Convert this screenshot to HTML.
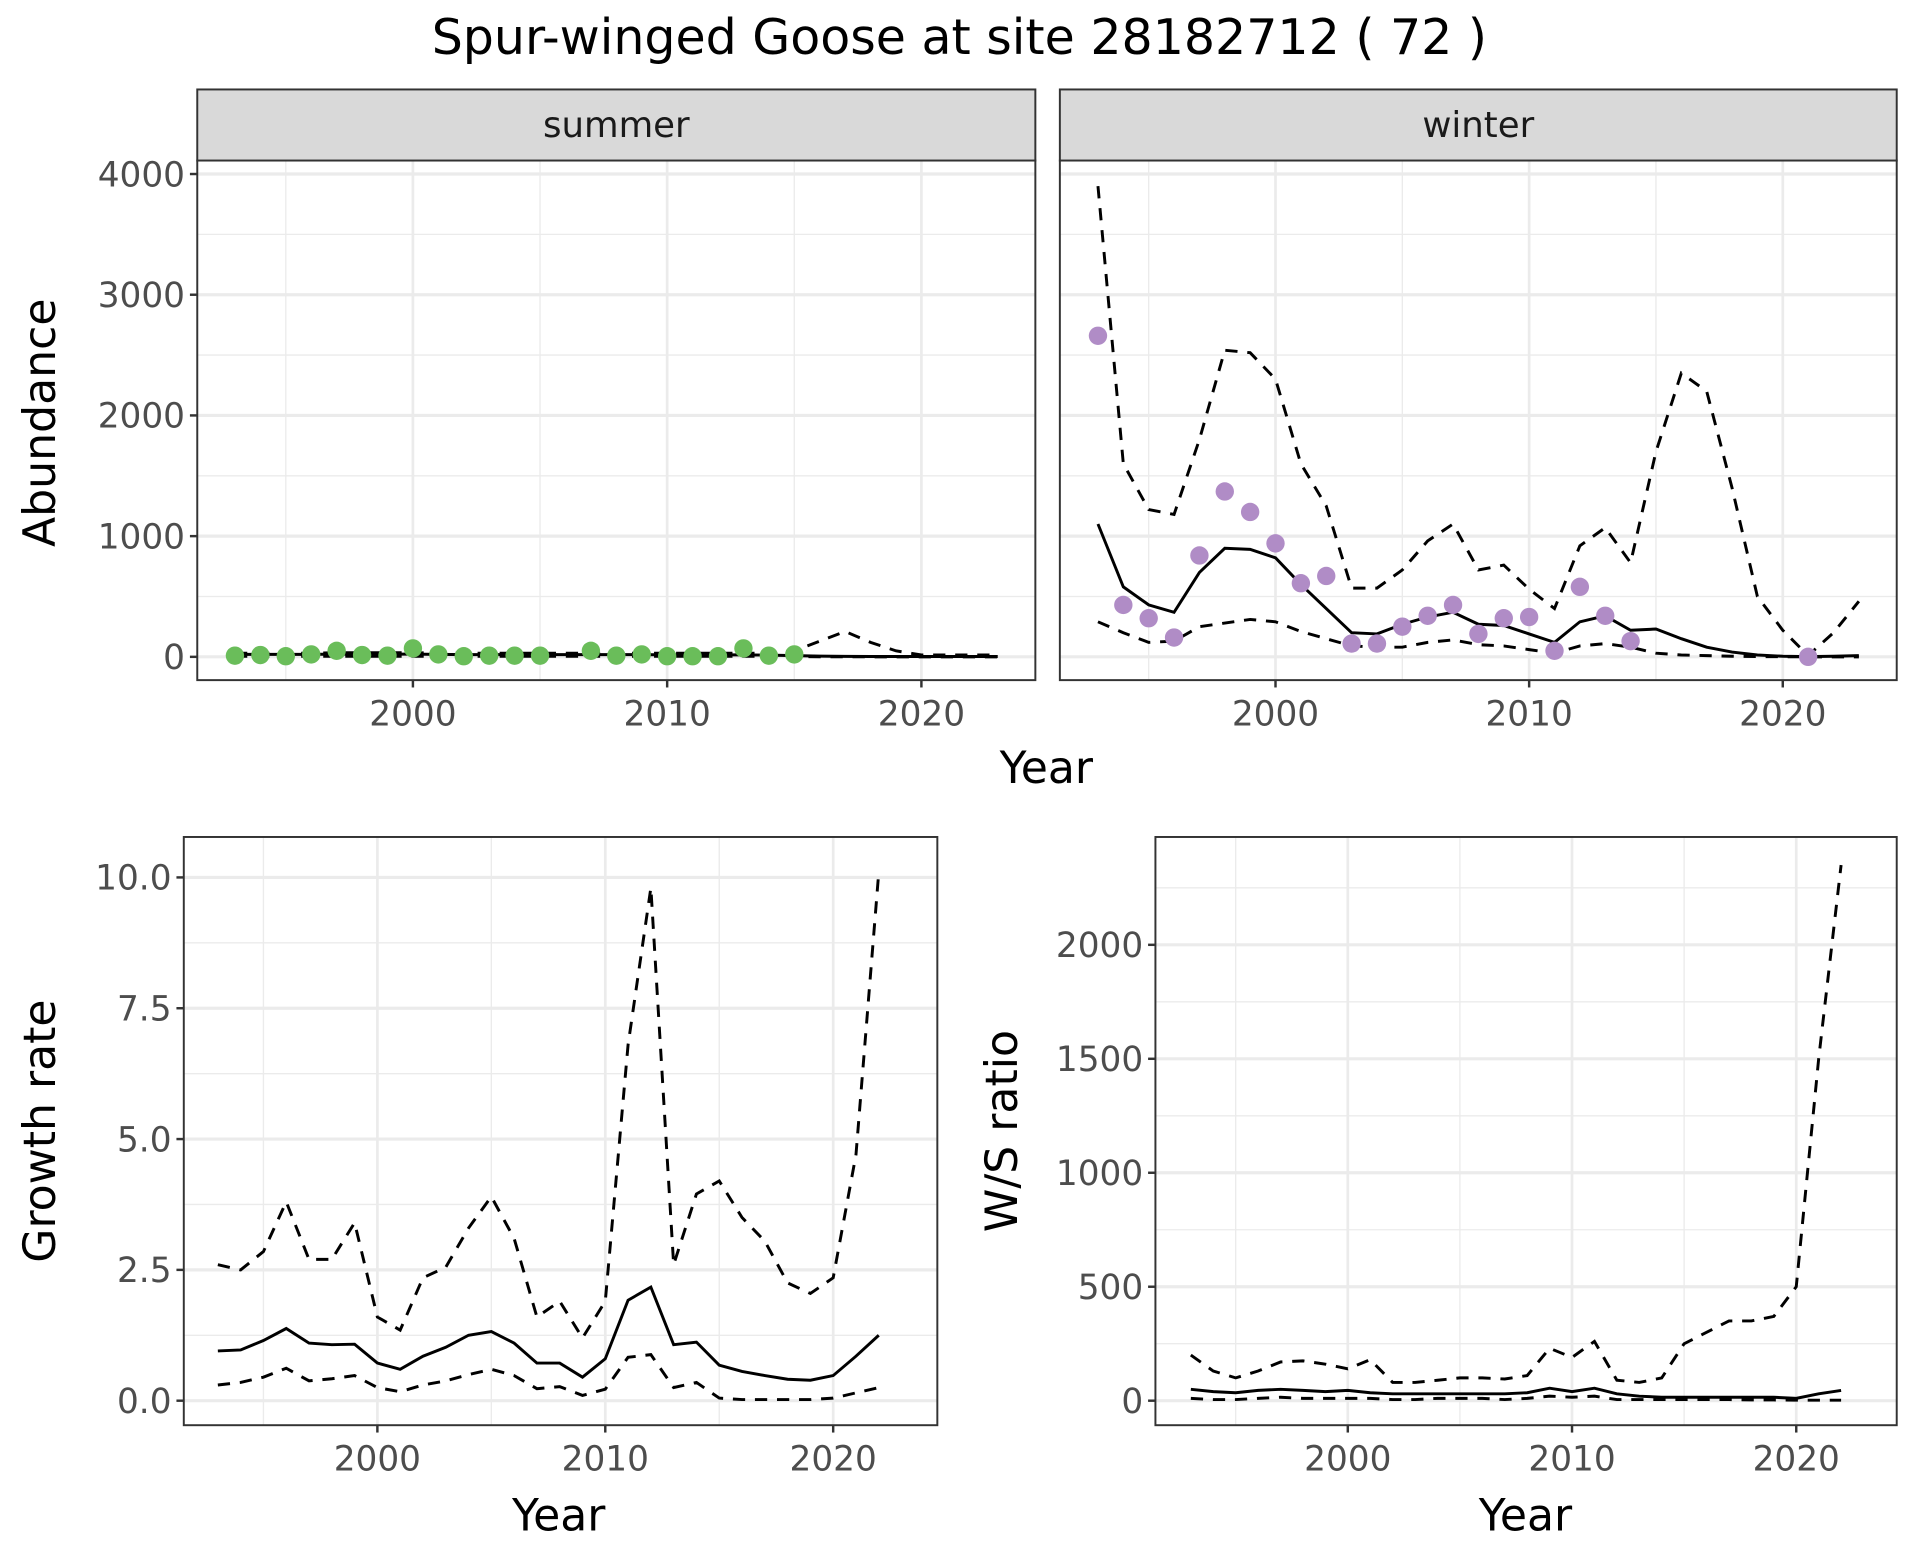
<!DOCTYPE html>
<html><head><meta charset="utf-8"><style>
html,body{margin:0;padding:0;background:#fff;}
svg{display:block;font-family:"DejaVu Sans","Liberation Sans",sans-serif;}
</style></head><body>
<svg id="c" width="1920" height="1560" viewBox="0 0 1567 1273" preserveAspectRatio="none" xmlns="http://www.w3.org/2000/svg">
<rect width="1567" height="1273" fill="#fff"/>
<text x="783" y="44" text-anchor="middle" font-size="40" fill="#000">Spur-winged Goose at site 28182712 ( 72 )</text>
</svg>
<script>
// ---- data ----
const yearsA = [1993,1994,1995,1996,1997,1998,1999,2000,2001,2002,2003,2004,2005,2006,2007,2008,2009,2010,2011,2012,2013,2014,2015,2016,2017,2018,2019,2020,2021,2022,2023];
const summerMean = [20,20,20,20,22,22,22,22,20,18,18,18,18,18,18,18,18,16,16,16,16,14,10,6,4,3,3,3,3,3,3];
const summerUpper = [30,30,30,30,35,35,35,35,30,30,30,30,30,30,30,30,30,30,30,30,30,30,50,130,210,120,50,15,15,15,15];
const summerLower = [5,5,5,5,5,5,5,5,5,5,5,5,5,5,5,5,5,5,5,5,5,5,2,1,1,0,0,0,0,0,0];
const summerPtYears = [1993,1994,1995,1996,1997,1998,1999,2000,2001,2002,2003,2004,2005,2007,2008,2009,2010,2011,2012,2013,2014,2015];
const summerPts = [10,15,5,20,50,15,10,70,20,5,10,10,10,50,10,20,5,5,5,70,10,20];
const winterMean = [1100,580,430,370,700,900,890,820,600,400,200,190,270,330,370,270,260,190,120,290,340,220,230,150,80,40,15,5,2,5,10];
const winterUpper = [3900,1600,1220,1180,1800,2540,2520,2300,1600,1250,570,570,720,960,1100,720,760,560,400,920,1070,780,1700,2350,2200,1400,500,220,10,200,460];
const winterLower = [290,200,120,130,250,280,310,290,210,150,90,80,80,120,140,100,90,60,30,90,110,80,30,15,10,5,2,1,0,0,0];
const winterPtYears = [1993,1994,1995,1996,1997,1998,1999,2000,2001,2002,2003,2004,2005,2006,2007,2008,2009,2010,2011,2012,2013,2014,2021];
const winterPts = [2660,430,320,160,840,1370,1200,940,610,670,110,110,250,340,430,190,320,330,50,580,340,130,0];
const yearsG = [1993,1994,1995,1996,1997,1998,1999,2000,2001,2002,2003,2004,2005,2006,2007,2008,2009,2010,2011,2012,2013,2014,2015,2016,2017,2018,2019,2020,2021,2022];
const growthMean = [0.95,0.97,1.15,1.38,1.1,1.07,1.08,0.72,0.6,0.85,1.02,1.25,1.32,1.1,0.72,0.72,0.45,0.8,1.92,2.17,1.07,1.12,0.68,0.56,0.48,0.41,0.39,0.48,0.85,1.25];
const growthUpper = [2.6,2.5,2.85,3.8,2.7,2.7,3.4,1.6,1.35,2.35,2.55,3.3,3.9,3.1,1.6,1.9,1.2,1.9,6.8,9.8,2.6,3.95,4.2,3.5,3.05,2.25,2.05,2.35,4.7,10.1];
const growthLower = [0.3,0.35,0.45,0.62,0.38,0.42,0.48,0.25,0.17,0.3,0.38,0.5,0.6,0.48,0.23,0.27,0.1,0.22,0.83,0.88,0.25,0.35,0.05,0.02,0.02,0.02,0.02,0.05,0.15,0.25];
const wsMean = [50,40,35,45,50,45,40,45,35,30,30,30,30,30,30,35,55,40,55,30,20,15,15,15,15,15,15,10,30,45];
const wsUpper = [200,130,100,130,170,175,160,140,180,80,80,90,100,100,95,110,230,190,260,90,80,100,250,300,350,350,370,500,1500,2350];
const wsLower = [10,5,5,10,15,10,10,10,10,5,5,10,10,10,5,10,20,15,20,5,5,5,5,5,5,3,3,2,2,2];
const xTicks = [2000,2010,2020];
const abTicks = [0,1000,2000,3000,4000];
const grTicks = [0,2.5,5,7.5,10];
const grTickLabels = ["0.0","2.5","5.0","7.5","10.0"];
const wsTicks = [0,500,1000,1500,2000];

const svg = document.getElementById('c');
const NS = "http://www.w3.org/2000/svg";
function el(tag, attrs, parent){const e=document.createElementNS(NS,tag);for(const k in attrs)e.setAttribute(k,attrs[k]);(parent||svg).appendChild(e);return e;}
function lin(d0,d1,r0,r1){return v=>r0+(v-d0)*(r1-r0)/(d1-d0);}

function panel(o){
  const g=el('g',{});
  
  
  el('rect',{x:o.x0,y:o.y0,width:o.x1-o.x0,height:o.y1-o.y0,fill:'#fff'},g);
  o.xMinor.forEach(v=>el('line',{x1:o.sx(v),x2:o.sx(v),y1:o.y0,y2:o.y1,stroke:'#ebebeb','stroke-width':1.1},g));
  o.yMinor.forEach(v=>el('line',{x1:o.x0,x2:o.x1,y1:o.sy(v),y2:o.sy(v),stroke:'#ebebeb','stroke-width':1.1},g));
  xTicks.forEach(v=>el('line',{x1:o.sx(v),x2:o.sx(v),y1:o.y0,y2:o.y1,stroke:'#ebebeb','stroke-width':2.2},g));
  o.yTicks.forEach(v=>el('line',{x1:o.x0,x2:o.x1,y1:o.sy(v),y2:o.sy(v),stroke:'#ebebeb','stroke-width':2.6},g));
  const path=(xs,ys)=>xs.map((x,i)=>(i?'L':'M')+o.sx(x).toFixed(1)+','+o.sy(ys[i]).toFixed(1)).join(' ');
  o.lines.forEach(l=>{
    const p=el('path',{d:path(l.xs,l.ys),fill:'none',stroke:'#000','stroke-width':2.4,'stroke-dasharray':l.dash?'10,8':'none'},g);
    
    
  });
  if(o.pts){o.pts.xs.forEach((x,i)=>{
    const c=el('circle',{cx:o.sx(x),cy:o.sy(o.pts.ys[i]),r:7.5,fill:o.pts.col},g);
    
    
  });}
  el('rect',{x:o.x0,y:o.y0,width:o.x1-o.x0,height:o.y1-o.y0,fill:'none',stroke:'#333','stroke-width':1.6},g);
  xTicks.forEach(v=>{
    el('line',{x1:o.sx(v),x2:o.sx(v),y1:o.y1,y2:o.y1+6,stroke:'#333','stroke-width':2},g);
    const t=el('text',{x:o.sx(v),y:o.y1+37,'text-anchor':'middle','font-size':28,fill:'#4d4d4d'},g);t.textContent=v;
    
    
  });
  if(o.yLabels){o.yTicks.forEach((v,i)=>{
    el('line',{x1:o.x0-6,x2:o.x0,y1:o.sy(v),y2:o.sy(v),stroke:'#333','stroke-width':2},g);
    const t=el('text',{x:o.x0-10,y:o.sy(v)+10,'text-anchor':'end','font-size':28,fill:'#4d4d4d'},g);t.textContent=o.yLabels[i];
    
    
  });}
  if(o.strip){
    el('rect',{x:o.x0,y:73,width:o.x1-o.x0,height:o.y0-73,fill:'#d9d9d9',stroke:'#333','stroke-width':1.6},g);
    const t=el('text',{x:(o.x0+o.x1)/2,y:112,'text-anchor':'middle','font-size':29,fill:'#1a1a1a'},g);t.textContent=o.strip;
    
    
  }
}
function text(x,y,s,size,name,rot){
  const t=el('text',{x:x,y:y,'text-anchor':'middle','font-size':size,fill:'#000'});
  if(rot)t.setAttribute('transform','rotate(-90 '+x+' '+y+')');
  t.textContent=s;
  
  
}
const abY=lin(0,4000,536,142);
const minorX=[1995,2005,2015];
panel({name:'summer-panel',x0:161,x1:845,y0:131,y1:555,sx:lin(2000,2020,337,752),sy:abY,yTicks:abTicks,yLabels:abTicks.map(String),xMinor:minorX,yMinor:[500,1500,2500,3500],strip:'summer',
  lines:[{xs:yearsA,ys:summerUpper,dash:1,name:'summer-upper-ci'},{xs:yearsA,ys:summerLower,dash:1,name:'summer-lower-ci'},{xs:yearsA,ys:summerMean,name:'summer-mean'}],
  pts:{xs:summerPtYears,ys:summerPts,col:'#6abd5a'}});
panel({name:'winter-panel',x0:865,x1:1548,y0:131,y1:555,sx:lin(2000,2020,1041,1455),sy:abY,yTicks:abTicks,xMinor:minorX,yMinor:[500,1500,2500,3500],strip:'winter',
  lines:[{xs:yearsA,ys:winterUpper,dash:1,name:'winter-upper-ci'},{xs:yearsA,ys:winterLower,dash:1,name:'winter-lower-ci'},{xs:yearsA,ys:winterMean,name:'winter-mean'}],
  pts:{xs:winterPtYears,ys:winterPts,col:'#b08cc6'}});
panel({name:'growth-panel',x0:150,x1:765,y0:683,y1:1163,sx:lin(2000,2020,308,680),sy:lin(0,10,1143,716),yTicks:grTicks,yLabels:grTickLabels,xMinor:minorX,yMinor:[1.25,3.75,6.25,8.75],
  lines:[{xs:yearsG,ys:growthUpper,dash:1,name:'growth-upper-ci'},{xs:yearsG,ys:growthLower,dash:1,name:'growth-lower-ci'},{xs:yearsG,ys:growthMean,name:'growth-mean'}]});
panel({name:'ws-panel',x0:943,x1:1548,y0:683,y1:1163,sx:lin(2000,2020,1100,1466),sy:lin(0,2000,1143,771),yTicks:wsTicks,yLabels:wsTicks.map(String),xMinor:minorX,yMinor:[250,750,1250,1750,2250],
  lines:[{xs:yearsG,ys:wsUpper,dash:1,name:'ws-upper-ci'},{xs:yearsG,ys:wsLower,dash:1,name:'ws-lower-ci'},{xs:yearsG,ys:wsMean,name:'ws-mean'}]});
text(854,639,'Year',36,'x-axis-title-top');
text(456,1249,'Year',36,'x-axis-title-growth');
text(1245,1249,'Year',36,'x-axis-title-ws');
text(45,345,'Abundance',36,'y-axis-title-abundance',1);
text(45,923,'Growth rate',36,'y-axis-title-growth',1);
text(830,923,'W/S ratio',36,'y-axis-title-ws',1);
</script>
</body></html>
